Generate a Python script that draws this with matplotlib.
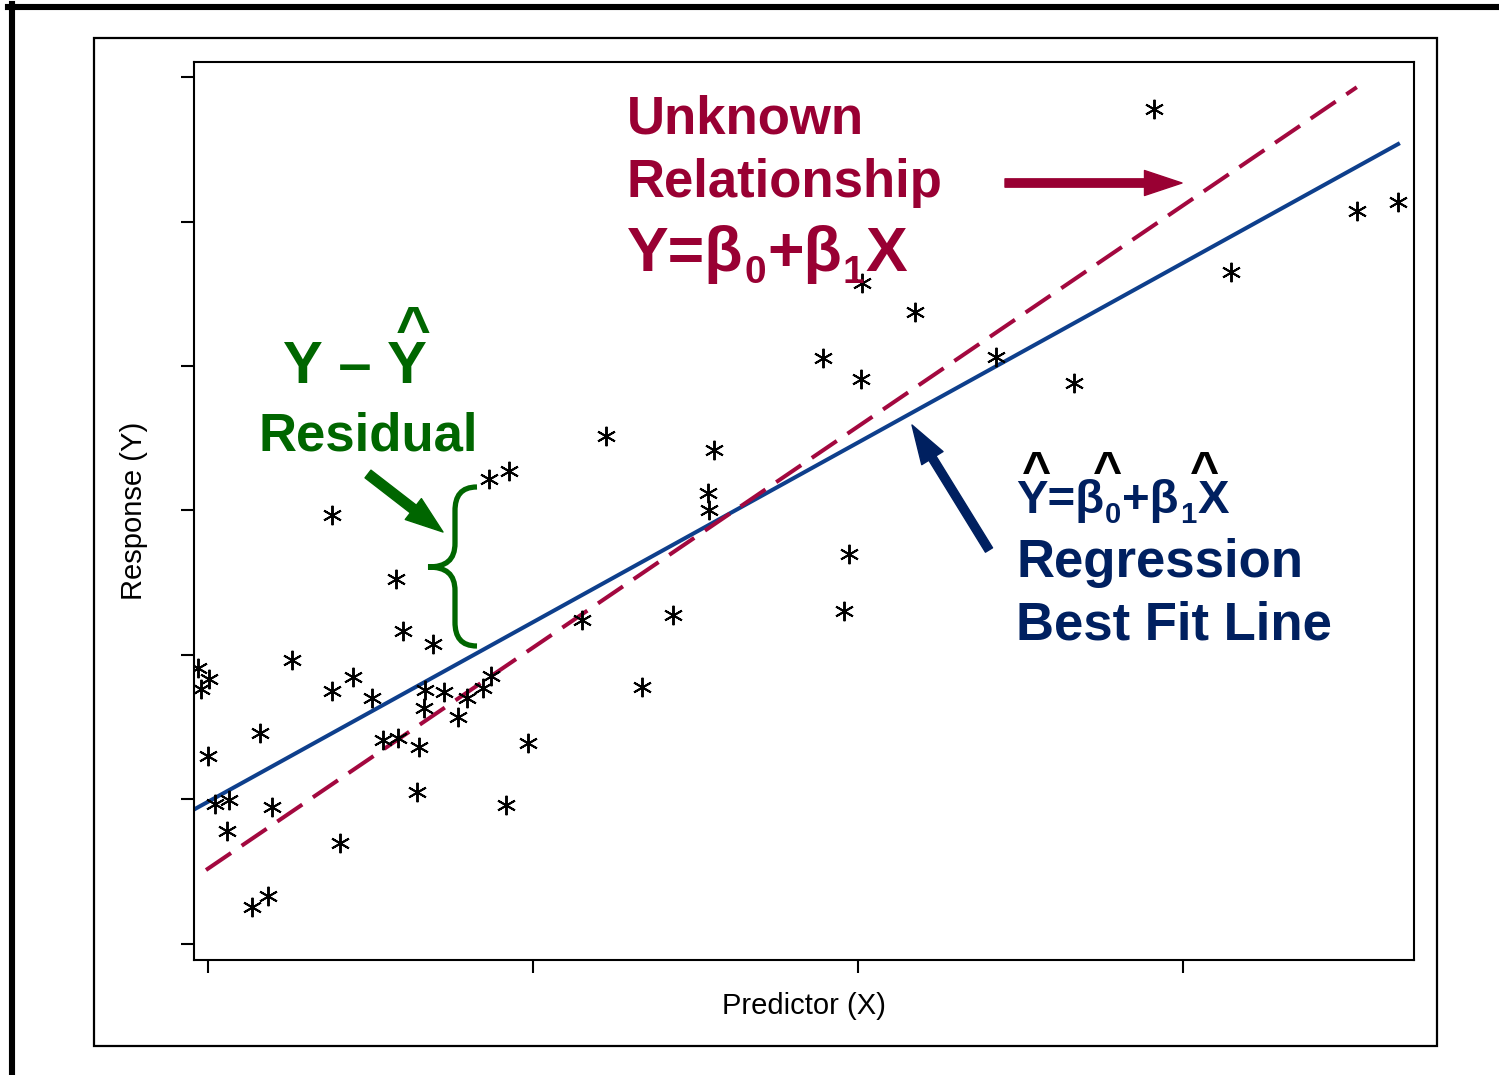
import matplotlib.pyplot as plt
import numpy as np
from matplotlib.lines import Line2D
from matplotlib.patches import FancyArrowPatch, PathPatch, Rectangle
from matplotlib.path import Path

plt.rcParams["font.family"] = ["Liberation Sans", "DejaVu Sans"]

x_obs = [-0.31, 0.03, -0.22, 0.00, 0.22, 0.65, 0.58, 1.35, 1.85, 1.60,
         1.97, 2.58, 3.82, 3.82, 4.06, 4.46, 5.05, 5.38, 5.78, 5.85,
         6.00, 6.49, 6.43, 6.65, 6.68, 6.92, 7.26, 7.69, 7.97, 8.46,
         8.71, 8.65, 9.26, 9.17, 9.85, 11.51, 12.25, 13.35, 14.31, 15.38,
         15.42, 15.57, 18.92, 19.72, 19.57, 20.09, 20.12, 21.75, 24.25, 26.65,
         29.11, 31.48, 35.35, 36.62]
y_obs = [19.10, 18.34, 17.65, 13.01, 9.69, 9.97, 7.82, 2.56, 3.32, 14.60,
         9.48, 19.65, 17.51, 29.69, 6.99, 18.48, 17.02, 14.12, 25.26, 14.26,
         21.66, 13.63, 10.52, 16.33, 17.58, 20.76, 17.44, 15.71, 17.02, 17.72,
         18.55, 32.18, 32.73, 9.62, 13.91, 22.42, 35.16, 17.79, 22.77, 31.21,
         30.03, 34.19, 40.55, 26.99, 23.04, 39.10, 45.74, 43.74, 40.62, 38.82,
         57.79, 46.51, 50.73, 51.35]

# fitted regression line and the unknown true relationship
b0_hat, b1_hat = 9.84, 1.243
fit_x = [-0.40, 36.62]
b0_true, b1_true = 5.21, 1.530
true_x = [-0.06, 35.35]

x_ticks = [0, 10, 20, 30]
y_ticks = [0, 10, 20, 30, 40, 50, 60]

RED = "#990033"
GREEN = "#006600"
NAVY = "#002060"
LINE_BLUE = "#0E3F8C"
LINE_RED = "#A3083F"
W, H = 1499, 1075


def fpos(px, py):
    # picture pixel -> figure fraction
    return px / W, 1 - py / H


fig = plt.figure(figsize=(W / 100, H / 100), dpi=100)
ax = fig.add_axes([194 / W, 1 - 960 / H, (1414 - 194) / W, (960 - 62) / H])

fx = np.array(fit_x)
tx = np.array(true_x)
ax.plot(fx, b0_hat + b1_hat * fx, color=LINE_BLUE, lw=2.9, zorder=2)
ax.plot(tx, b0_true + b1_true * tx, color=LINE_RED, lw=2.9, dashes=(7.5, 3.2), zorder=2)
ax.plot(x_obs, y_obs, ls="none", marker=(6, 2, 0), ms=14, mew=1.4, color="black", zorder=3)

ax.set_xlim(-0.43, 37.11)
ax.set_ylim(-1.11, 61.04)
ax.set_xticks(x_ticks)
ax.set_yticks(y_ticks)
ax.tick_params(length=9.4, width=1.5, labelbottom=False, labelleft=False)
for spine in ax.spines.values():
    spine.set_linewidth(1.5)

ax.set_xlabel("Predictor (X)", fontsize=21)
ax.xaxis.set_label_coords(0.5, (960 - 1006) / 898)
ax.xaxis.label.set_va("center")
ax.set_ylabel("Response (Y)", fontsize=21)
ax.yaxis.set_label_coords((134 - 194) / 1220, 0.5)
ax.yaxis.label.set_va("center")

# frames around the slide and the plot
fig.add_artist(Rectangle(fpos(94, 1046), (1437 - 94) / W, (1046 - 38) / H, fill=False,
                         lw=1.6, ec="black", transform=fig.transFigure))
fig.add_artist(Line2D([8 / W, 1], [1 - 6.5 / H] * 2, lw=4.4, color="black", transform=fig.transFigure))
fig.add_artist(Line2D([11.5 / W] * 2, [1 - 4 / H, 0], lw=4.4, color="black", transform=fig.transFigure))

renderer = fig.canvas.get_renderer()


def formula(px, py, parts, size, color):
    # bold text with lowered subscripts, laid out piece by piece
    for s, scale, drop in parts:
        t = fig.text(*fpos(px, py + drop), s, fontsize=size * scale, color=color,
                     fontweight="bold", va="baseline", ha="left")
        px += t.get_window_extent(renderer).width + 1


def label(px, py, s, size, color, ha="left"):
    fig.text(*fpos(px, py), s, fontsize=size, color=color, fontweight="bold", va="baseline", ha=ha)


# unknown relationship
label(627, 133, "Unknown", 38, RED)
label(627, 197, "Relationship", 38, RED)
formula(627, 271, [("Y=β", 1, 0), ("0", 0.62, 12), ("+β", 1, 0), ("1", 0.62, 12), ("X", 1, 0)], 45, RED)
fig.add_artist(FancyArrowPatch(fpos(1005, 183), fpos(1182, 183), transform=fig.transFigure,
                               arrowstyle="simple,head_length=27,head_width=18,tail_width=6",
                               color=RED, shrinkA=0, shrinkB=0))

# residual
label(283, 383, "Y – Y", 43, GREEN)
label(413, 348, "^", 43, GREEN, ha="center")
label(259, 450, "Residual", 38, GREEN)
fig.add_artist(FancyArrowPatch(fpos(368, 474), fpos(443, 532), transform=fig.transFigure,
                               arrowstyle="simple,head_length=27,head_width=19,tail_width=7",
                               color=GREEN, shrinkA=0, shrinkB=0))
brace = [fpos(*p) for p in [(477, 487), (461, 487), (455, 496), (455, 511), (455, 543),
                            (455, 560), (446, 567), (428, 567), (446, 567), (455, 574),
                            (455, 591), (455, 622), (455, 637), (461, 646), (477, 646)]]
codes = [Path.MOVETO] + [Path.CURVE4] * 3 + [Path.LINETO] + [Path.CURVE4] * 6 + [Path.LINETO] + [Path.CURVE4] * 3
fig.add_artist(PathPatch(Path(brace, codes), fill=False, lw=3.8, ec=GREEN, capstyle="butt",
                         transform=fig.transFigure))

# regression best fit line
formula(1016, 513, [("Y=β", 1, 0), ("0", 0.62, 10), ("+β", 1, 0), ("1", 0.62, 10), ("X", 1, 0)], 34, NAVY)
for hx in [1037, 1108, 1205]:
    label(hx, 487, "^", 36, "black", ha="center")
label(1016, 577, "Regression", 38, NAVY)
label(1016, 640, "Best Fit Line", 38, NAVY)
fig.add_artist(FancyArrowPatch(fpos(989, 550), fpos(912, 425), transform=fig.transFigure,
                               arrowstyle="simple,head_length=28,head_width=18,tail_width=6",
                               color=NAVY, shrinkA=0, shrinkB=0))

fig.savefig("out.png", dpi=100)
